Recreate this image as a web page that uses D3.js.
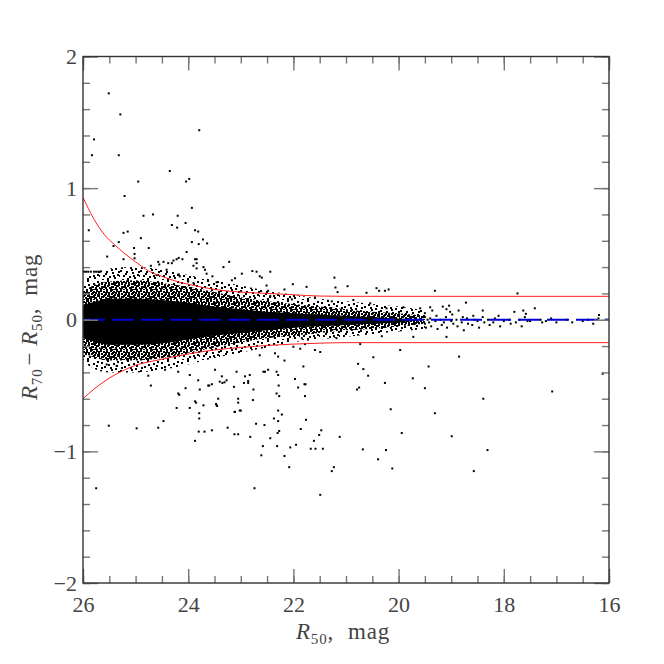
<!DOCTYPE html>
<html>
<head>
<meta charset="utf-8">
<script src="https://cdn.jsdelivr.net/npm/d3@7"></script>
<style>
  body { margin: 0; background: #fff; }
  text { font-family: "Liberation Serif", "DejaVu Serif", serif; fill: #444; }
</style>
</head>
<body>
<svg id="chart" width="664" height="664"></svg>
<script>
// dense core of the cloud, read as envelopes (mag, upper/lower edge)
var coreMag = [26, 25.75, 25.5, 25, 24.5, 24, 23.5, 23, 22.5, 22, 21.5, 21, 20.5, 20, 19.5];
var haloHi = [0.30, 0.36, 0.39, 0.40, 0.38, 0.34, 0.30, 0.26, 0.22, 0.19, 0.16, 0.14, 0.12, 0.10, 0.07];
var haloLo = [-0.32, -0.38, -0.40, -0.40, -0.38, -0.34, -0.29, -0.25, -0.21, -0.17, -0.15, -0.13, -0.11, -0.09, -0.07];
var midHi = [0.22, 0.27, 0.29, 0.30, 0.28, 0.25, 0.21, 0.17, 0.14, 0.12, 0.10, 0.08, 0.06, 0.05, 0.03];
var midLo = [-0.25, -0.29, -0.31, -0.31, -0.29, -0.25, -0.21, -0.17, -0.14, -0.12, -0.10, -0.08, -0.07, -0.05, -0.03];
var innerHi = [0.11, 0.14, 0.16, 0.16, 0.15, 0.13, 0.10, 0.08, 0.06, 0.05, 0.04, 0.03, 0.02, 0.01, 0.0];
var innerLo = [-0.14, -0.17, -0.19, -0.19, -0.18, -0.15, -0.12, -0.10, -0.08, -0.06, -0.05, -0.04, -0.03, -0.02, 0.0];

// red envelope curves
var redMag = [26, 25.8, 25.6, 25.4, 25.2, 25, 24.75, 24.5, 24.25, 24, 23.5, 23, 22.5, 22, 21.5, 21, 16];
var redUp = [0.93, 0.77, 0.65, 0.57, 0.50, 0.44, 0.37, 0.33, 0.295, 0.27, 0.23, 0.21, 0.20, 0.19, 0.18, 0.178, 0.178];
var redLo = [-0.60, -0.53, -0.47, -0.42, -0.38, -0.345, -0.32, -0.30, -0.28, -0.26, -0.23, -0.21, -0.195, -0.185, -0.178, -0.174, -0.174];

// scattered points outside the dense core [mag, R70-R50]
var outliers = [
  [25.51,1.72],[25.29,1.56],[23.79,1.44],[25.79,1.37],[25.83,1.25],[25.32,1.25],[24.35,1.13],[24.04,1.05],
  [23.98,1.07],[24.95,1.05],[25.21,0.94],[23.93,0.85],[24.85,0.79],[24.67,0.80],[24.20,0.79],[25.89,0.68],
  [25.23,0.66],[25.15,0.67],[24.31,0.72],[24.21,0.70],[24.05,0.735],[23.87,0.68],[23.81,0.67],[24.90,0.62],
  [25.32,0.59],[23.93,0.59],[23.72,0.61],[23.64,0.58],[23.80,0.575],[25.42,0.56],[25.03,0.545],[24.75,0.545],
  [24.03,0.515],[25.02,0.50],[25.54,0.48],[25.02,0.467],[23.84,0.46],[24.22,0.46],[24.11,0.46],[25.23,0.46],
  [23.87,0.46],[23.84,0.43],[24.31,0.43],[23.22,0.44],[24.57,0.44],[24.71,0.41],[23.90,0.41],[23.68,0.38],
  [23.33,0.40],[22.98,0.35],[22.78,0.37],[22.70,0.365],[22.44,0.365],[23.11,0.315],[23.17,0.30],[23.46,0.285],
  [22.60,0.32],[22.51,0.26],
  [25.98,0.365],[25.94,0.365],[25.90,0.365],[25.85,0.365],[25.79,0.365],[25.75,0.365],[25.71,0.365],[25.67,0.365],
  [24.55,0.42],[24.47,0.44],[24.38,0.43],[24.28,0.45],[24.18,0.47],[24.18,0.345],[24.16,0.33],[24.60,0.34],
  [24.41,0.38],[23.84,0.39],[23.71,0.40],[23.65,0.35],[24.00,0.29],[23.90,0.28],[23.54,0.33],
  [22.64,0.33],[21.22,0.32],[22.01,0.27],[21.75,0.25],[21.20,0.245],[21.16,0.21],[20.97,0.255],[22.17,0.23],
  [20.42,0.24],[20.37,0.22],[20.26,0.22],[20.19,0.23],[20.61,0.205],[19.31,0.22],[22.48,0.22],[17.74,0.20],
  [18.72,0.13],[17.41,0.087],[19.04,0.107],[17.63,0.07],[17.58,0.045],[18.40,0.07],[16.19,0.036],
  [22.44,0.18],[22.03,0.155],[21.59,0.17],[21.27,0.14],[20.86,0.15],[20.54,0.125],[20.23,0.087],[19.91,0.095],
  [19.59,0.087],[19.40,0.095],[19.09,0.08],[19.02,0.06],
  [21.84,-0.14],[21.78,-0.185],[21.18,-0.14],[20.73,-0.185],[20.32,-0.125],[19.72,-0.13],[19.09,-0.13],
  [22.64,-0.27],[22.35,-0.255],[22.29,-0.28],[22.17,-0.31],[22.48,-0.38],[22.57,-0.395],[22.29,-0.42],
  [22.00,-0.205],[21.87,-0.22],[21.81,-0.355],[21.59,-0.23],[21.49,-0.245],[20.77,-0.335],[20.67,-0.375],
  [20.48,-0.285],[19.97,-0.23],[20.58,-0.425],[19.73,-0.445],[19.43,-0.355],[18.85,-0.28],[21.97,-0.45],[21.79,-0.49],
  [24.76,-0.425],[24.71,-0.50],[25.36,-0.35],[25.55,-0.34],[24.44,-0.38],[24.19,-0.395],[23.97,-0.42],[23.81,-0.46],
  [23.62,-0.50],[23.49,-0.38],[23.36,-0.43],[23.27,-0.46],[23.08,-0.395],[22.92,-0.43],[22.83,-0.42],[22.54,-0.395],
  [22.32,-0.395],[22.76,-0.53],[22.32,-0.56],[24.19,-0.56],[23.87,-0.62],[23.46,-0.65],[23.05,-0.63],[23.79,-0.71],
  [23.79,-0.75],[23.11,-0.70],[23.02,-0.69],[24.22,-0.67],[23.97,-0.67],[22.29,-0.69],
  [24.17,-0.57],[24.05,-0.52],[23.60,-0.50],[23.55,-0.49],[23.40,-0.47],[23.35,-0.48],[23.31,-0.475],[23.13,-0.51],
  [22.94,-0.48],[22.86,-0.465],[22.86,-0.48],[23.78,-0.53],[22.28,-0.50],[23.43,-0.60],[23.05,-0.60],[23.85,-0.63],
  [23.47,-0.64],[23.45,-0.655],[22.77,-0.61],[22.27,-0.58],[23.71,-0.65],[23.12,-0.70],[23.00,-0.69],
  [22.37,-0.75],[22.29,-0.77],[24.47,-0.77],[25.51,-0.805],[24.98,-0.825],[24.57,-0.82],[23.25,-0.82],[22.71,-0.79],
  [22.55,-0.80],[23.80,-0.85],[23.69,-0.85],[23.55,-0.84],[23.12,-0.87],[23.05,-0.87],[22.27,-0.845],[22.30,-0.86],
  [22.82,-0.89],[22.44,-0.90],[23.87,-0.92],[22.58,-0.96],[22.31,-0.96],[22.61,-1.03],[25.75,-1.28],[22.74,-1.28],
  [21.91,-0.515],[21.77,-0.49],[21.78,-0.58],[20.79,-0.53],[20.75,-0.515],[20.26,-0.48],[19.50,-0.52],[17.08,-0.545],
  [18.39,-0.60],[22.22,-0.72],[21.76,-0.76],[21.86,-0.83],[20.15,-0.68],[19.31,-0.71],[22.17,-1.035],[22.06,-0.97],
  [21.95,-0.95],[21.61,-0.92],[21.51,-0.875],[21.47,-0.84],[21.67,-0.98],[21.58,-0.98],[21.44,-0.98],[21.12,-0.89],
  [22.08,-1.12],[21.27,-1.15],[21.23,-1.12],[21.49,-1.33],[20.68,-0.985],[20.39,-1.06],[20.24,-0.99],[20.12,-1.13],
  [19.94,-0.86],[18.99,-0.885],[18.57,-1.15],[18.31,-0.99],[16.12,-0.41]
];

// sparse bright-end points near zero
var tailPts = [
  [19.5,0.02],[19.5,-0.03],[19.5,0.05],[19.48,-0.06],[19.45,0.0],[19.42,-0.02],[19.4,0.01],[19.38,-0.05],[19.36,0.07],
  [19.3,-0.01],[19.28,0.03],[19.26,-0.07],[19.2,0.0],[19.18,-0.04],[19.16,0.1],[19.14,-0.02],[19.1,0.02],[19.08,-0.06],
  [19.0,-0.01],[18.98,0.04],[18.96,-0.03],[18.9,0.0],[18.88,-0.05],[18.86,0.07],[18.8,-0.02],[18.78,0.02],[18.76,-0.08],
  [18.7,0.01],[18.68,-0.03],[18.6,-0.04],[18.58,0.03],[18.56,0.0],[18.5,-0.01],[18.47,-0.06],[18.4,0.02],[18.37,-0.02],
  [18.3,0.0],[18.27,-0.04],[18.2,-0.02],[18.17,0.01],[18.1,0.03],[18.07,-0.05],[18.0,-0.01],[17.9,0.0],[17.87,-0.03],
  [17.8,0.06],[17.77,-0.02],[17.7,0.0],[17.66,-0.05],[17.6,0.02],[17.55,-0.01],[17.5,-0.01],[17.3,0.0],[17.27,-0.02],
  [17.2,-0.01],[17.1,0.01],[17.0,-0.02],[16.8,0.0],[16.7,-0.02],[16.5,-0.01],[16.4,0.0],[16.3,-0.03],[16.2,0.01],[16.05,0.0]
];

var xTicksMajor = [26, 24, 22, 20, 18, 16];
var yTicksMajor = [-2, -1, 0, 1, 2];

var svg = d3.select("#chart"),
    margin = {top: 56.5, right: 55, bottom: 81, left: 83},
    W = 664, H = 664,
    x = d3.scaleLinear().domain([26, 16]).range([margin.left, W - margin.right]),
    y = d3.scaleLinear().domain([-2, 2]).range([H - margin.bottom, margin.top]);

var defs = svg.append("defs");
defs.append("clipPath").attr("id", "plot")
    .append("rect")
    .attr("x", x(26)).attr("y", y(2))
    .attr("width", x(16) - x(26)).attr("height", y(-2) - y(2));

// speckle textures for the crowded part of the cloud
var haloDots = [[1,2],[7,0],[13,3],[17,1],[4,6],[10,7],[15,8],[0,10],[6,11],[12,12],[18,11],[3,15],
                [9,16],[14,17],[19,15],[2,19],[8,4],[16,5],[5,13],[11,9],[17,14],[7,18],[13,15],[1,7]];
var midDots = [[0,0],[3,1],[6,0],[8,2],[1,3],[4,4],[7,5],[2,6],[5,7],[9,7],[0,8],[3,9],[6,9],[8,4],[5,2],[1,6]];
function speckle(id, size, dots) {
    var p = defs.append("pattern").attr("id", id)
        .attr("patternUnits", "userSpaceOnUse")
        .attr("width", size).attr("height", size);
    p.selectAll("rect").data(dots).enter().append("rect")
        .attr("x", function (d) { return d[0]; })
        .attr("y", function (d) { return d[1]; })
        .attr("width", 2).attr("height", 2)
        .attr("fill", "#000");
}
speckle("halo", 20, haloDots);
speckle("mid", 10, midDots);

var g = svg.append("g").attr("clip-path", "url(#plot)");

function band(hi, lo) {
    return d3.area()
        .x(function (d, i) { return x(coreMag[i]); })
        .y0(function (d, i) { return y(lo[i]); })
        .y1(function (d, i) { return y(hi[i]); })
        .curve(d3.curveMonotoneX)(coreMag);
}
g.append("path").attr("d", band(haloHi, haloLo)).attr("fill", "url(#halo)");
g.append("path").attr("d", band(midHi, midLo)).attr("fill", "url(#mid)");
g.append("path").attr("d", band(innerHi, innerLo)).attr("fill", "#000");

g.append("g").selectAll("rect")
    .data(outliers.concat(tailPts))
    .enter().append("rect")
    .attr("x", function (d) { return x(d[0]) - 1; })
    .attr("y", function (d) { return y(d[1]) - 1; })
    .attr("width", 2).attr("height", 2)
    .attr("fill", "#000");

var redLine = function (vals) {
    return d3.line()
        .x(function (d, i) { return x(redMag[i]); })
        .y(function (d, i) { return y(vals[i]); })
        .curve(d3.curveMonotoneX)(redMag);
};
g.append("path").attr("d", redLine(redUp)).attr("fill", "none").attr("stroke", "#ff2020").attr("stroke-width", 1);
g.append("path").attr("d", redLine(redLo)).attr("fill", "none").attr("stroke", "#ff2020").attr("stroke-width", 1);

g.append("line")
    .attr("x1", x(26)).attr("x2", x(16))
    .attr("y1", y(0)).attr("y2", y(0))
    .attr("stroke", "#0000d0").attr("stroke-width", 2)
    .attr("stroke-dasharray", "22,7");

// axes: inward ticks on all four sides
var xMinor = d3.range(26, 15.9, -0.5), yMinor = d3.range(-2, 2.01, 0.2).map(function (v) { return +v.toFixed(1); });
function axisGroup(axis, tx, ty) {
    var a = svg.append("g").attr("transform", "translate(" + tx + "," + ty + ")").call(axis);
    a.select(".domain").remove();
    a.selectAll("line").attr("stroke", "#777").attr("stroke-width", 1.4);
    return a;
}
axisGroup(d3.axisBottom(x).tickValues(xMinor).tickSize(-7).tickFormat(""), 0, y(-2));
axisGroup(d3.axisTop(x).tickValues(xMinor).tickSize(-7).tickFormat(""), 0, y(2));
axisGroup(d3.axisBottom(x).tickValues(xTicksMajor).tickSize(-14).tickPadding(13).tickFormat(d3.format("d")), 0, y(-2))
    .selectAll("text").style("font-size", "22px").attr("fill", "#444");
axisGroup(d3.axisTop(x).tickValues(xTicksMajor).tickSize(-14).tickFormat(""), 0, y(2));

axisGroup(d3.axisLeft(y).tickValues(yMinor).tickSize(-7).tickFormat(""), x(26), 0);
axisGroup(d3.axisRight(y).tickValues(yMinor).tickSize(-7).tickFormat(""), x(16), 0);
axisGroup(d3.axisLeft(y).tickValues(yTicksMajor).tickSize(-15).tickPadding(6).tickFormat(d3.format("d")), x(26), 0)
    .selectAll("text").style("font-size", "22px").attr("fill", "#444");
axisGroup(d3.axisRight(y).tickValues(yTicksMajor).tickSize(-15).tickFormat(""), x(16), 0);

svg.append("rect")
    .attr("x", x(26)).attr("y", y(2))
    .attr("width", x(16) - x(26)).attr("height", y(-2) - y(2))
    .attr("fill", "none").attr("stroke", "#333").attr("stroke-width", 1.4);

// axis titles
var xt = svg.append("text")
    .attr("x", 296).attr("y", 639)
    .style("font-size", "23px").style("letter-spacing", "0.8px");
xt.append("tspan").style("font-style", "italic").text("R");
xt.append("tspan").attr("dy", 5).style("font-size", "15px").text("50");
xt.append("tspan").attr("dy", -5).text(",");
xt.append("tspan").attr("dx", 14).text("mag");

var yt = svg.append("text")
    .attr("transform", "translate(37,400) rotate(-90)")
    .style("font-size", "23px").style("letter-spacing", "0.8px");
yt.append("tspan").style("font-style", "italic").text("R");
yt.append("tspan").attr("dy", 5).style("font-size", "15px").text("70");
yt.append("tspan").attr("dy", -5).attr("dx", 3).text("\u2212");
yt.append("tspan").attr("dx", 6).style("font-style", "italic").text("R");
yt.append("tspan").attr("dy", 5).style("font-size", "15px").text("50");
yt.append("tspan").attr("dy", -5).text(",");
yt.append("tspan").attr("dx", 12).text("mag");
</script>
</body>
</html>
